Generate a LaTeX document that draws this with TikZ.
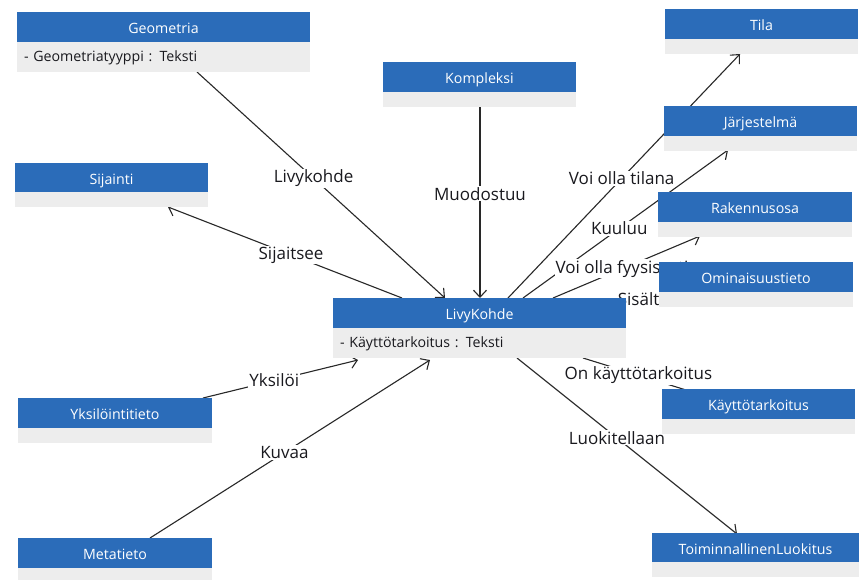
\documentclass[tikz,border=0pt]{standalone}
\usepackage{fontspec}
\setmainfont{Open Sans}
\usetikzlibrary{arrows.meta}
\definecolor{hdrblue}{RGB}{43,108,185}
\definecolor{bodygrey}{RGB}{237,237,237}
\definecolor{linegrey}{RGB}{40,40,40}
\definecolor{lbltext}{RGB}{25,25,30}
\pgfdeclarelayer{top}
\pgfsetlayers{main,top}
\begin{document}
\begin{tikzpicture}[x=1pt,y=-1pt,
  hdr/.style={fill=hdrblue, text=white, anchor=north west, minimum height=30pt,
    inner sep=0pt, outer sep=0pt, text height=14pt, text depth=1pt,
    font=\fontsize{14.2}{17}\selectfont},
  bdy/.style={fill=bodygrey, anchor=north west, inner sep=0pt, outer sep=0pt,
    minimum height=15pt},
  attr/.style={bdy, minimum height=30pt, inner xsep=7pt, align=left, text=lbltext,
    text height=11pt, text depth=3pt, font=\fontsize{14.2}{17}\selectfont},
  conn/.style={draw=linegrey, line width=1.1pt, -{Straight Barb[length=7pt,width=13pt]}},
  lbl/.style={fill=white, text=lbltext, inner sep=1pt, font=\fontsize{17}{20}\selectfont}
]
\useasboundingbox[fill=white] (0,0) rectangle (859,579);

% ---------- boxes (on top layer, above connectors and labels) ----------
\begin{pgfonlayer}{top}
\node[hdr, minimum width=293pt] (geo) at (17,12) {Geometria};
\node[attr, text width=279pt, minimum width=293pt] (geoB) at (geo.south west) {- Geometriatyyppi : Teksti};

\node[hdr, minimum width=193pt] (tila) at (665,9) {Tila};
\node[bdy, minimum width=193pt] (tilaB) at (tila.south west) {};

\node[hdr, minimum width=193pt] (komp) at (383,62) {Kompleksi};
\node[bdy, minimum width=193pt] (kompB) at (komp.south west) {};

\node[hdr, minimum width=193pt] (jar) at (664,106) {Järjestelmä};
\node[bdy, minimum width=193pt] (jarB) at (jar.south west) {};

\node[hdr, minimum width=193pt, minimum height=29pt] (sij) at (15,163) {Sijainti};
\node[bdy, minimum width=193pt] (sijB) at (sij.south west) {};

\node[hdr, minimum width=194pt] (rak) at (658,192) {Rakennusosa};
\node[bdy, minimum width=194pt] (rakB) at (rak.south west) {};

\node[hdr, minimum width=194pt] (omi) at (659,262) {Ominaisuustieto};
\node[bdy, minimum width=194pt] (omiB) at (omi.south west) {};

\node[hdr, minimum width=293pt] (livy) at (333,298) {LivyKohde};
\node[attr, text width=279pt, minimum width=293pt] (livyB) at (livy.south west) {- Käyttötarkoitus : Teksti};

\node[hdr, minimum width=193pt] (kay) at (662,389) {Käyttötarkoitus};
\node[bdy, minimum width=193pt] (kayB) at (kay.south west) {};

\node[hdr, minimum width=194pt] (yks) at (18,398) {Yksilöintitieto};
\node[bdy, minimum width=194pt] (yksB) at (yks.south west) {};

\node[hdr, minimum width=194pt] (meta) at (18,538) {Metatieto};
\node[bdy, minimum width=194pt] (metaB) at (meta.south west) {};

\node[hdr, minimum width=207pt, minimum height=29pt] (toim) at (652,533) {ToiminnallinenLuokitus};
\node[bdy, minimum width=207pt] (toimB) at (toim.south west) {};
\end{pgfonlayer}

% ---------- connectors ----------
\draw[conn] ([xshift=180pt]geoB.south west) -- node[lbl, pos=0.47] {Livykohde} ([xshift=112pt]livy.north west);
\draw[conn] ([xshift=97pt]kompB.south west) -- node[lbl, pos=0.455] {Muodostuu} ([xshift=147pt]livy.north west);
\draw[conn] ([xshift=69pt]livy.north west) -- node[lbl, pos=0.474] {Sijaitsee} ([xshift=153pt]sijB.south west);
\draw[conn] ([xshift=185pt]yks.north west) -- node[lbl, pos=0.46] {Yksilöi} ([xshift=25pt,yshift=-2pt]livyB.south west);
\draw[conn] ([xshift=132pt]meta.north west) -- node[lbl, pos=0.48] {Kuvaa} ([xshift=97pt,yshift=-2pt]livyB.south west);
\draw[conn] ([xshift=175pt]livy.north west) -- node[lbl, pos=0.49] {Voi olla tilana} ([xshift=75pt]tilaB.south west);
\draw[conn] ([xshift=190pt]livy.north west) -- node[lbl, pos=0.47] {Kuuluu} ([xshift=64pt,yshift=1pt]jarB.south west);
\draw[conn] ([xshift=220pt]livy.north west) -- node[lbl, pos=0.47] {Voi olla fyysisesti} ([xshift=42pt,yshift=1pt]rakB.south west);
\draw[conn] ([xshift=-11pt,yshift=-2pt]livy.north east) -- node[lbl, pos=0.5] {Sisältää} ([xshift=22pt,yshift=-6pt]omiB.north west);
\draw[conn] ([xshift=-43pt]livyB.south east) -- node[lbl, pos=0.42] {On käyttötarkoitus} ([xshift=53pt,yshift=-10pt]kay.north west);
\draw[conn] ([xshift=-109pt]livyB.south east) -- node[lbl, pos=0.454] {Luokitellaan} ([xshift=85pt,yshift=-1pt]toim.north west);
\end{tikzpicture}
\end{document}
